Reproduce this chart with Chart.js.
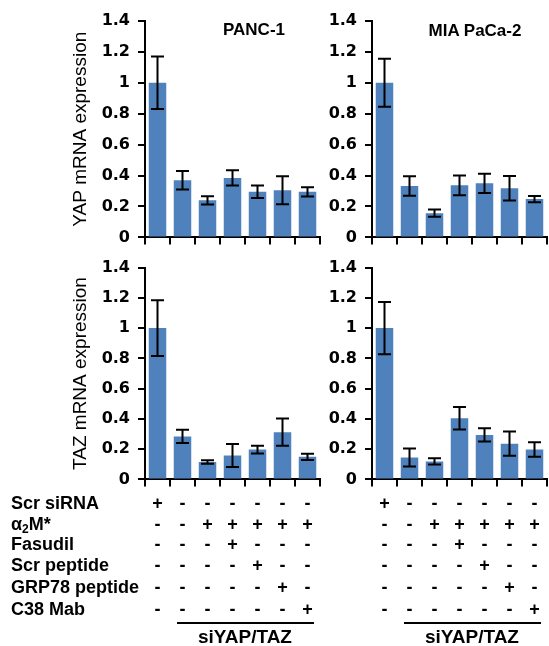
<!DOCTYPE html>
<html>
<head>
<meta charset="utf-8">
<script src="https://cdn.jsdelivr.net/npm/chart.js@4"></script>
<style>
  body { margin: 0; background: #fff; font-family: "Liberation Sans", Arial, sans-serif; }
  #fig { position: relative; width: 549px; height: 646px; overflow: hidden; }
  canvas { position: absolute; }
  .t { position: absolute; font-weight: bold; font-size: 18px; color: #000; white-space: nowrap; line-height: 1; }
  .c { transform: translate(-50%, -50%); }
  .l { transform: translate(0, -50%); }
  .t sub { font-size: 12px; line-height: 0; vertical-align: -3px; }
  .rule { position: absolute; height: 0; border-top: 2px solid #000; }
</style>
</head>
<body>
<div id="fig">
  <canvas id="yapPanc" width="325" height="255" style="left:0;top:0"></canvas>
  <canvas id="yapMia" width="224" height="255" style="left:325px;top:0"></canvas>
  <canvas id="tazPanc" width="325" height="247" style="left:0;top:250px"></canvas>
  <canvas id="tazMia" width="224" height="247" style="left:325px;top:250px"></canvas>
  <div class="t c" style="left:254px;top:29px;font-size:17px">PANC-1</div>
  <div class="t c" style="left:475px;top:30px;font-size:17px">MIA PaCa-2</div>
</div>
<script>
// conditions (one bar each)
const categories = ['Scr siRNA', 'siYAP/TAZ', 'siYAP/TAZ + α2M*', 'siYAP/TAZ + α2M* + Fasudil',
  'siYAP/TAZ + α2M* + Scr peptide', 'siYAP/TAZ + α2M* + GRP78 peptide', 'siYAP/TAZ + α2M* + C38 Mab'];

const yapPanc = [1.0, 0.37, 0.24, 0.385, 0.295, 0.305, 0.295];
const yapPancErr = [0.17, 0.06, 0.027, 0.05, 0.04, 0.09, 0.03];
const yapMia = [1.0, 0.333, 0.157, 0.337, 0.35, 0.318, 0.248];
const yapMiaErr = [0.155, 0.063, 0.024, 0.064, 0.062, 0.08, 0.02];
const tazPanc = [1.0, 0.284, 0.115, 0.158, 0.197, 0.312, 0.149];
const tazPancErr = [0.184, 0.044, 0.011, 0.076, 0.025, 0.09, 0.02];
const tazMia = [1.0, 0.145, 0.119, 0.404, 0.294, 0.236, 0.198];
const tazMiaErr = [0.173, 0.06, 0.021, 0.074, 0.044, 0.08, 0.048];

const yTickValues = [0, 0.2, 0.4, 0.6, 0.8, 1, 1.2, 1.4];

// treatment table under the bars
const treatmentRows = ['Scr siRNA', 'α<sub>2</sub>M*', 'Fasudil', 'Scr peptide', 'GRP78 peptide', 'C38 Mab'];
const treatmentSigns = [
  ['+', '-', '-', '-', '-', '-', '-'],
  ['-', '-', '+', '+', '+', '+', '+'],
  ['-', '-', '-', '+', '-', '-', '-'],
  ['-', '-', '-', '-', '+', '-', '-'],
  ['-', '-', '-', '-', '-', '+', '-'],
  ['-', '-', '-', '-', '-', '-', '+']
];
const groupLabel = 'siYAP/TAZ';

const errorBars = {
  id: 'errorBars',
  afterDatasetsDraw(chart) {
    const ctx = chart.ctx;
    const y = chart.scales.y;
    const ds = chart.data.datasets[0];
    ctx.save();
    ctx.strokeStyle = '#000';
    ctx.lineWidth = 2;
    chart.getDatasetMeta(0).data.forEach((bar, i) => {
      const v = ds.data[i], e = ds.errors[i];
      const top = y.getPixelForValue(v + e), bot = y.getPixelForValue(v - e);
      ctx.beginPath();
      ctx.moveTo(bar.x, top); ctx.lineTo(bar.x, bot);
      ctx.moveTo(bar.x - 6.5, top); ctx.lineTo(bar.x + 6.5, top);
      ctx.moveTo(bar.x - 6.5, bot); ctx.lineTo(bar.x + 6.5, bot);
      ctx.stroke();
    });
    ctx.restore();
  }
};

function panel(id, values, errors, o) {
  return new Chart(document.getElementById(id), {
    type: 'bar',
    data: {
      labels: categories,
      datasets: [{ data: values, errors: errors, backgroundColor: '#4F81BD',
        barPercentage: 0.7, categoryPercentage: 1 }]
    },
    options: {
      responsive: false,
      animation: false,
      layout: { padding: o.pad },
      plugins: { legend: { display: false }, tooltip: { enabled: false } },
      scales: {
        x: {
          grid: { offset: true, drawOnChartArea: false, color: '#000', lineWidth: 2, tickLength: 7 },
          border: { color: '#000', width: 2 },
          ticks: { display: false }
        },
        y: {
          min: 0, max: 1.4,
          afterBuildTicks: s => { s.ticks = yTickValues.map(v => ({ value: v })); },
          afterFit: s => { s.width = o.axisW; },
          grid: { drawOnChartArea: false, color: '#000', lineWidth: 2, tickLength: 7 },
          border: { color: '#000', width: 2 },
          ticks: {
            color: '#000', padding: 8,
            font: { family: 'DejaVu Sans', size: 16, weight: 'bold' },
            callback: v => String(v)
          },
          title: {
            display: !!o.title, text: o.title || '', color: '#000',
            font: { family: 'Liberation Sans', size: 19 },
            padding: { top: 69, bottom: 0 }
          }
        }
      }
    },
    plugins: [errorBars]
  });
}

const c1 = panel('yapPanc', yapPanc, yapPancErr, { axisW: 145, pad: { top: 21, bottom: 2, right: 5 }, title: 'YAP mRNA expression' });
const c2 = panel('yapMia', yapMia, yapMiaErr, { axisW: 47, pad: { top: 21, bottom: 2, right: 2 } });
const c3 = panel('tazPanc', tazPanc, tazPancErr, { axisW: 145, pad: { top: 17, bottom: 2, right: 5 }, title: 'TAZ mRNA expression' });
const c4 = panel('tazMia', tazMia, tazMiaErr, { axisW: 47, pad: { top: 13, bottom: 2, right: 2 } });

const fig = document.getElementById('fig');
function addText(html, x, y, cls, size) {
  const d = document.createElement('div');
  d.className = 't ' + cls;
  d.innerHTML = html;
  d.style.left = x + 'px';
  d.style.top = y + 'px';
  if (size) d.style.fontSize = size + 'px';
  fig.appendChild(d);
}

const rowY = [503, 524, 544, 565, 587, 609];
treatmentRows.forEach((r, i) => addText(r, 11, rowY[i], 'l'));

function placeTable(chart, left) {
  const x = chart.scales.x;
  treatmentSigns.forEach((row, r) => row.forEach((s, i) => addText(s, left + x.getPixelForValue(i), rowY[r], 'c')));
  const x0 = left + x.getPixelForValue(1) - 6, x1 = left + x.getPixelForValue(6) + 6;
  const line = document.createElement('div');
  line.className = 'rule';
  line.style.left = x0 + 'px';
  line.style.top = '622px';
  line.style.width = (x1 - x0) + 'px';
  fig.appendChild(line);
  addText(groupLabel, (x0 + x1) / 2, 636, 'c', 19);
}
placeTable(c3, 0);
placeTable(c4, 325);
</script>
</body>
</html>
